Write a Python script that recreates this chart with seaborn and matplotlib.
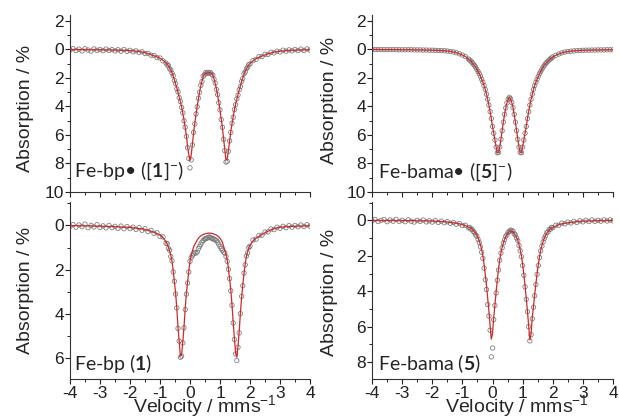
import numpy as np
import pandas as pd
import seaborn as sns
import matplotlib
matplotlib.use("Agg")
from matplotlib import pyplot as plt
from matplotlib.ticker import MultipleLocator

# velocity grid (mm/s), shared by all four spectra
velocity = [-4.0, -3.9, -3.8, -3.7, -3.6, -3.5, -3.4, -3.3, -3.2, -3.1,
            -3.0, -2.9, -2.8, -2.7, -2.6, -2.5, -2.4, -2.3, -2.2, -2.1,
            -2.0, -1.9, -1.8, -1.7, -1.6, -1.5, -1.4, -1.3, -1.2, -1.1,
            -1.0, -0.9, -0.80, -0.76, -0.72, -0.68, -0.64, -0.60, -0.56, -0.52,
            -0.48, -0.44, -0.40, -0.36, -0.32, -0.28, -0.24, -0.20, -0.16, -0.12,
            -0.08, -0.04, 0.00, 0.04, 0.08, 0.12, 0.16, 0.20, 0.24, 0.28,
            0.32, 0.36, 0.40, 0.44, 0.48, 0.52, 0.56, 0.60, 0.64, 0.68,
            0.72, 0.76, 0.80, 0.84, 0.88, 0.92, 0.96, 1.00, 1.04, 1.08,
            1.12, 1.16, 1.20, 1.24, 1.28, 1.32, 1.36, 1.40, 1.44, 1.48,
            1.52, 1.56, 1.60, 1.64, 1.68, 1.72, 1.76, 1.80, 1.84, 1.88,
            1.92, 1.96, 2.00, 2.1, 2.2, 2.3, 2.4, 2.5, 2.6, 2.7,
            2.8, 2.9, 3.0, 3.1, 3.2, 3.3, 3.4, 3.5, 3.6, 3.7,
            3.8, 3.9, 4.0]

# Fe-bp radical ([1]-)
bp_rad_data = [0.05, -0.06, 0.08, -0.02, 0.10, -0.05, 0.04, 0.12, -0.04, 0.06,
               0.00, 0.09, -0.03, 0.07, 0.01, 0.10, 0.02, 0.12, 0.00, 0.13,
               0.06, 0.16, 0.10, 0.20, 0.16, 0.28, 0.27, 0.40, 0.42, 0.57,
               0.60, 0.80, 0.95, 1.08, 1.13, 1.35, 1.44, 1.66, 1.84, 2.18,
               2.40, 2.76, 2.98, 3.38, 3.65, 4.06, 4.45, 5.00, 5.45, 6.10,
               6.90, 7.65, 8.30, 7.75, 6.70, 5.82, 5.22, 4.52, 4.02, 3.42,
               3.00, 2.52, 2.25, 1.88, 1.78, 1.62, 1.68, 1.60, 1.66, 1.62,
               1.73, 1.80, 2.08, 2.36, 2.80, 3.17, 3.74, 4.24, 4.92, 5.46,
               6.30, 7.10, 7.90, 7.85, 7.15, 6.42, 5.82, 5.17, 4.76, 4.22,
               3.88, 3.47, 3.20, 2.82, 2.60, 2.24, 2.04, 1.70, 1.58, 1.35,
               1.26, 1.06, 1.02, 0.78, 0.70, 0.50, 0.50, 0.34, 0.35, 0.20,
               0.24, 0.12, 0.18, 0.05, 0.12, 0.03, 0.10, 0.00, 0.08, -0.03,
               0.07, -0.04, 0.05]
bp_rad_fit = [0.00, 0.00, 0.01, 0.01, 0.01, 0.01, 0.02, 0.02, 0.02, 0.02,
              0.02, 0.03, 0.03, 0.03, 0.04, 0.04, 0.05, 0.06, 0.06, 0.07,
              0.08, 0.10, 0.12, 0.14, 0.18, 0.23, 0.29, 0.36, 0.44, 0.52,
              0.62, 0.76, 0.93, 1.03, 1.15, 1.30, 1.45, 1.62, 1.86, 2.13,
              2.41, 2.71, 3.00, 3.33, 3.67, 4.01, 4.48, 4.95, 5.48, 6.05,
              6.82, 7.40, 7.78, 7.40, 6.65, 5.85, 5.18, 4.56, 3.98, 3.45,
              2.97, 2.56, 2.22, 1.90, 1.74, 1.67, 1.64, 1.64, 1.63, 1.64,
              1.70, 1.82, 2.05, 2.39, 2.76, 3.20, 3.70, 4.27, 4.87, 5.50,
              6.25, 7.05, 7.75, 7.70, 7.10, 6.45, 5.77, 5.20, 4.72, 4.25,
              3.84, 3.50, 3.16, 2.85, 2.56, 2.27, 2.00, 1.74, 1.54, 1.38,
              1.22, 1.09, 0.98, 0.80, 0.65, 0.54, 0.46, 0.38, 0.31, 0.25,
              0.19, 0.15, 0.12, 0.10, 0.08, 0.07, 0.06, 0.05, 0.04, 0.03,
              0.03, 0.02, 0.02]

# Fe-bama radical ([5]-)
bama_rad_data = [0.00, 0.00, 0.00, 0.01, 0.01, 0.01, 0.01, 0.01, 0.01, 0.02,
                 0.02, 0.02, 0.02, 0.02, 0.03, 0.03, 0.03, 0.04, 0.04, 0.05,
                 0.05, 0.06, 0.07, 0.08, 0.09, 0.11, 0.14, 0.17, 0.23, 0.30,
                 0.39, 0.50, 0.67, 0.74, 0.82, 0.91, 1.01, 1.12, 1.24, 1.39,
                 1.55, 1.70, 1.88, 2.09, 2.30, 2.53, 2.80, 3.14, 3.50, 3.90,
                 4.36, 4.85, 5.40, 5.88, 6.35, 6.85, 7.25, 7.22, 6.85, 6.30,
                 5.70, 5.10, 4.55, 4.10, 3.75, 3.48, 3.36, 3.45, 3.72, 4.08,
                 4.55, 5.10, 5.70, 6.30, 6.85, 7.22, 7.25, 6.85, 6.35, 5.88,
                 5.40, 4.85, 4.36, 3.90, 3.50, 3.14, 2.80, 2.53, 2.30, 2.09,
                 1.88, 1.70, 1.55, 1.39, 1.24, 1.12, 1.01, 0.91, 0.82, 0.74,
                 0.67, 0.60, 0.53, 0.41, 0.32, 0.24, 0.18, 0.15, 0.12, 0.10,
                 0.08, 0.07, 0.06, 0.05, 0.05, 0.04, 0.04, 0.03, 0.03, 0.03,
                 0.02, 0.02, 0.02]
bama_rad_fit = bama_rad_data

# Fe-bp (1)
bp_data = [0.05, -0.04, 0.08, -0.02, 0.06, -0.06, 0.10, 0.00, 0.07, -0.03,
           0.09, 0.02, 0.11, 0.00, 0.10, 0.04, 0.13, 0.03, 0.15, 0.05,
           0.14, 0.08, 0.18, 0.10, 0.22, 0.15, 0.28, 0.22, 0.36, 0.33,
           0.50, 0.52, 0.80, 0.82, 1.03, 1.12, 1.40, 1.60, 2.10, 2.52,
           3.10, 3.72, 4.65, 5.22, 5.95, 5.90, 5.30, 4.62, 3.80, 3.10,
           2.60, 2.10, 1.62, 1.45, 1.35, 1.28, 1.22, 1.25, 1.20, 1.05,
           0.95, 0.85, 0.75, 0.68, 0.62, 0.60, 0.58, 0.55, 0.52, 0.55,
           0.58, 0.60, 0.62, 0.65, 0.68, 0.75, 0.85, 0.95, 1.05, 1.12,
           1.20, 1.25, 1.40, 1.62, 1.98, 2.40, 2.95, 3.60, 4.40, 5.15,
           5.80, 6.10, 5.50, 4.85, 3.98, 3.20, 2.72, 2.15, 1.78, 1.38,
           1.24, 1.00, 0.94, 0.66, 0.62, 0.45, 0.44, 0.30, 0.29, 0.16,
           0.19, 0.08, 0.13, 0.04, 0.10, 0.01, 0.08, 0.00, 0.06, -0.02,
           0.05, -0.03, 0.04]
bp_fit = [0.01, 0.01, 0.01, 0.01, 0.02, 0.02, 0.02, 0.02, 0.03, 0.03,
          0.03, 0.04, 0.04, 0.05, 0.05, 0.06, 0.06, 0.07, 0.08, 0.08,
          0.09, 0.11, 0.12, 0.14, 0.16, 0.19, 0.22, 0.26, 0.31, 0.37,
          0.44, 0.55, 0.74, 0.84, 0.98, 1.15, 1.35, 1.62, 2.05, 2.55,
          3.05, 3.75, 4.60, 5.25, 5.90, 5.85, 5.25, 4.60, 3.75, 3.05,
          2.55, 2.05, 1.62, 1.35, 1.15, 0.98, 0.86, 0.76, 0.66, 0.58,
          0.52, 0.47, 0.44, 0.41, 0.39, 0.37, 0.36, 0.35, 0.35, 0.35,
          0.36, 0.37, 0.39, 0.41, 0.44, 0.47, 0.52, 0.58, 0.66, 0.76,
          0.95, 1.10, 1.30, 1.55, 1.95, 2.42, 2.92, 3.58, 4.38, 5.10,
          5.75, 5.95, 5.45, 4.80, 3.95, 3.25, 2.68, 2.18, 1.75, 1.40,
          1.20, 1.02, 0.90, 0.70, 0.58, 0.49, 0.41, 0.33, 0.26, 0.20,
          0.15, 0.11, 0.09, 0.07, 0.06, 0.05, 0.04, 0.04, 0.03, 0.03,
          0.02, 0.02, 0.02]

# Fe-bama (5)
bama_data = [0.04, -0.05, 0.07, 0.00, -0.04, 0.08, -0.02, 0.05, -0.05, 0.06,
             0.00, 0.08, -0.03, 0.05, 0.10, 0.00, 0.06, -0.02, 0.09, 0.03,
             0.10, 0.02, 0.12, 0.05, 0.14, 0.08, 0.17, 0.12, 0.22, 0.18,
             0.30, 0.28, 0.42, 0.40, 0.50, 0.50, 0.62, 0.70, 0.82, 0.90,
             1.08, 1.25, 1.50, 1.80, 2.15, 2.70, 3.35, 3.90, 4.75, 5.40,
             6.20, 7.70, 7.20, 5.60, 4.80, 4.10, 3.38, 2.80, 2.25, 1.85,
             1.55, 1.28, 1.10, 0.90, 0.82, 0.68, 0.62, 0.55, 0.58, 0.62,
             0.76, 0.82, 1.00, 1.15, 1.42, 1.72, 2.05, 2.55, 3.10, 3.75,
             4.45, 5.15, 6.00, 6.80, 6.45, 5.55, 4.90, 4.25, 3.62, 3.05,
             2.55, 2.10, 1.72, 1.45, 1.22, 1.02, 0.88, 0.70, 0.66, 0.52,
             0.50, 0.40, 0.42, 0.28, 0.28, 0.16, 0.20, 0.10, 0.15, 0.06,
             0.12, 0.03, 0.09, 0.00, 0.07, -0.02, 0.06, 0.00, 0.05, -0.03,
             0.04, -0.02, 0.03]
bama_fit = [0.01, 0.01, 0.01, 0.01, 0.01, 0.01, 0.01, 0.01, 0.02, 0.02,
            0.02, 0.02, 0.02, 0.02, 0.02, 0.03, 0.03, 0.03, 0.03, 0.04,
            0.04, 0.05, 0.06, 0.07, 0.08, 0.10, 0.12, 0.14, 0.17, 0.20,
            0.25, 0.30, 0.38, 0.41, 0.44, 0.48, 0.56, 0.66, 0.75, 0.85,
            0.99, 1.17, 1.38, 1.67, 2.00, 2.48, 3.05, 3.68, 4.40, 5.12,
            5.95, 6.70, 6.40, 5.50, 4.78, 4.03, 3.35, 2.75, 2.22, 1.83,
            1.52, 1.28, 1.08, 0.92, 0.80, 0.70, 0.64, 0.60, 0.61, 0.66,
            0.74, 0.84, 0.97, 1.13, 1.38, 1.67, 2.00, 2.48, 3.05, 3.68,
            4.40, 5.12, 5.95, 6.75, 6.40, 5.50, 4.85, 4.20, 3.60, 3.00,
            2.50, 2.07, 1.70, 1.42, 1.20, 1.00, 0.85, 0.73, 0.64, 0.55,
            0.48, 0.43, 0.39, 0.32, 0.25, 0.20, 0.17, 0.14, 0.12, 0.10,
            0.08, 0.06, 0.05, 0.04, 0.04, 0.03, 0.03, 0.02, 0.02, 0.02,
            0.01, 0.01, 0.01]

labels = [r"Fe-bp• ([$\mathbf{1}$]$^{-}$)", r"Fe-bama• ([$\mathbf{5}$]$^{-}$)",
          r"Fe-bp ($\mathbf{1}$)", r"Fe-bama ($\mathbf{5}$)"]

sns.set_style("ticks")
plt.rcParams["font.family"] = ["Liberation Sans", "DejaVu Sans"]
plt.rcParams["axes.unicode_minus"] = False
plt.rcParams["mathtext.fontset"] = "custom"
plt.rcParams["mathtext.rm"] = "Lato"
plt.rcParams["mathtext.bf"] = "Lato:bold"
plt.rcParams["mathtext.it"] = "Lato:italic"
plt.rcParams["mathtext.sf"] = "Liberation Sans"

fig = plt.figure(figsize=(6.19, 4.16), dpi=100)
ax_tl = fig.add_axes([0.1131, 0.5385, 0.3877, 0.4255])
ax_tr = fig.add_axes([0.6010, 0.5385, 0.3893, 0.4255])
ax_bl = fig.add_axes([0.1131, 0.0880, 0.3877, 0.4255])
ax_br = fig.add_axes([0.6010, 0.0880, 0.3893, 0.4255])

panels = [
    (ax_tl, bp_rad_data, bp_rad_fit, (10, -2.42), [-2, 0, 2, 4, 6, 8, 10], 0.086, 0.47),
    (ax_tr, bama_rad_data, bama_rad_fit, (10, -2.42), [-2, 0, 2, 4, 6, 8, 10], 0.079, 0.52),
    (ax_bl, bp_data, bp_fit, (6.95, -1.04), [0, 2, 4, 6], 0.053, 0.50),
    (ax_br, bama_data, bama_fit, (8.97, -1.01), [0, 2, 4, 6, 8], 0.053, 0.49),
]

for i, (ax, data, fit, ylim, yticks, text_y, ylab_y) in enumerate(panels):
    sns.scatterplot(x=velocity, y=data, ax=ax, marker="o", s=10,
                    facecolor="none", edgecolor="#777777", linewidth=0.55,
                    legend=False, zorder=2)
    sns.lineplot(x=velocity, y=fit, ax=ax, color="#cf2a2a", linewidth=0.9,
                 errorbar=None, zorder=3)
    ax.set_xlim(-4, 4)
    ax.set_ylim(*ylim)
    ax.set_yticks(yticks)
    ax.set_yticklabels([str(abs(t)) for t in yticks])
    ax.yaxis.set_minor_locator(MultipleLocator(1))
    ax.xaxis.set_major_locator(MultipleLocator(1))
    ax.xaxis.set_minor_locator(MultipleLocator(0.5))
    ax.tick_params(which="major", direction="out", length=3.5, width=0.8,
                   labelsize=12.5, pad=1, colors="#222222")
    ax.tick_params(which="minor", direction="out", length=2, width=0.7,
                   colors="#222222")
    for side in ["left", "bottom"]:
        ax.spines[side].set_color("#333333")
        ax.spines[side].set_linewidth(0.8)
    sns.despine(ax=ax)
    ax.set_ylabel("Absorption / %", fontsize=14)
    ax.yaxis.set_label_coords(-0.15 if i % 2 == 0 else -0.14, ylab_y)
    ax.text(0.015 if i % 2 == 0 else 0.026, text_y, labels[i],
            transform=ax.transAxes, fontsize=14, family=["Lato", "DejaVu Sans"],
            ha="left", va="baseline")
    if i < 2:
        ax.tick_params(labelbottom=False)
    else:
        ax.set_xlabel(r"Velocity / mms$^{\mathsf{-1}}$", fontsize=14)
        ax.xaxis.set_label_coords(0.56 if i == 2 else 0.60, -0.08)

fig.savefig("out.png", dpi=100)
plt.close(fig)
